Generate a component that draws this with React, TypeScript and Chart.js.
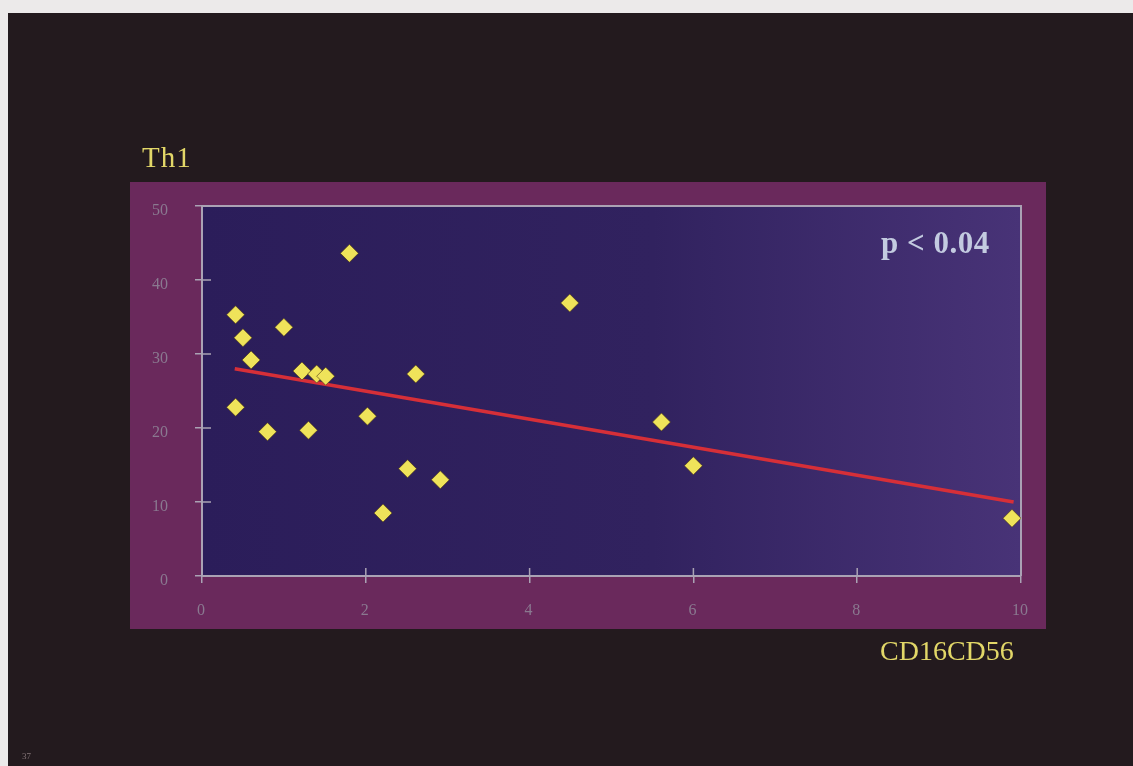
import React, { useEffect, useRef } from "react";
import { Chart, registerables } from "chart.js";

Chart.register(...registerables);

// Data
const xValues = [0.41, 0.5, 0.6, 0.41, 0.8, 1.0, 1.22, 1.4, 1.51, 1.3, 1.8, 2.02, 2.21, 2.51, 2.61, 2.91, 4.49, 5.61, 6.0, 9.89];
const yValues = [35.3, 32.2, 29.2, 22.8, 19.5, 33.6, 27.7, 27.3, 27.0, 19.7, 43.6, 21.6, 8.5, 14.5, 27.3, 13.0, 36.9, 20.8, 14.9, 7.8];
const trendX = [0.4, 9.91];
const trendY = [28.0, 10.0];
const xTicks = [0, 2, 4, 6, 8, 10];
const yTicks = [0, 10, 20, 30, 40, 50];

const AXIS_COLOR = "#aaa2b4";
const TICK_LABEL_COLOR = "#8a7990";

const decorPlugin = {
  id: "decor",
  beforeDraw(chart: any) {
    const { ctx, chartArea: a } = chart;
    ctx.save();
    // magenta panel
    ctx.fillStyle = "#6a295c";
    const l = a.left - 72;
    const t = a.top - 24;
    const r = a.right + 25;
    const b = a.bottom + 53;
    ctx.fillRect(l, t, r - l, b - t);
    // plot gradient
    const g = ctx.createLinearGradient(a.left, 0, a.right, 0);
    g.addColorStop(0, "#2b1d5a");
    g.addColorStop(0.55, "#31225f");
    g.addColorStop(1, "#483377");
    ctx.fillStyle = g;
    ctx.fillRect(a.left, a.top, a.right - a.left, a.bottom - a.top);
    ctx.restore();
  },
  beforeDatasetsDraw(chart: any) {
    const { ctx, chartArea: a, scales } = chart;
    ctx.save();
    ctx.strokeStyle = AXIS_COLOR;
    ctx.lineWidth = 2;
    // top and right frame lines
    ctx.beginPath();
    ctx.moveTo(a.left, a.top);
    ctx.lineTo(a.right, a.top);
    ctx.lineTo(a.right, a.bottom);
    ctx.stroke();
    // inner tick parts
    ctx.lineWidth = 1.5;
    ctx.beginPath();
    yTicks.forEach((v) => {
      const y = scales.y.getPixelForValue(v);
      ctx.moveTo(a.left, y);
      ctx.lineTo(a.left + 9, y);
    });
    xTicks.forEach((v) => {
      const x = scales.x.getPixelForValue(v);
      ctx.moveTo(x, a.bottom);
      ctx.lineTo(x, a.bottom - 8);
    });
    ctx.stroke();
    ctx.restore();
  },
};

export default function App() {
  const canvasRef = useRef<HTMLCanvasElement | null>(null);

  useEffect(() => {
    if (!canvasRef.current) return;
    const points = xValues.map((x, i) => ({ x, y: yValues[i] }));
    const trend = trendX.map((x, i) => ({ x, y: trendY[i] }));
    const chart = new Chart(canvasRef.current, {
      type: "scatter",
      data: {
        datasets: [
          {
            label: "Th1",
            data: points,
            pointStyle: "rectRot",
            pointRadius: 9,
            backgroundColor: "#efe35a",
            borderColor: "rgba(70,50,20,0.6)",
            borderWidth: 1,
            order: 0,
          },
          {
            label: "trend",
            data: trend,
            showLine: true,
            borderColor: "#d62f38",
            borderWidth: 3.5,
            pointRadius: 0,
            order: 1,
          } as any,
        ],
      },
      options: {
        responsive: false,
        animation: false,
        devicePixelRatio: 1,
        layout: { padding: { left: 142, right: 112, top: 206, bottom: 130 } },
        plugins: {
          legend: { display: false },
          tooltip: { enabled: false },
          title: { display: false },
        },
        scales: {
          x: {
            type: "linear",
            min: 0,
            max: 10,
            afterFit: (s: any) => {
              s.height = 60;
            },
            afterBuildTicks: (s: any) => {
              s.ticks = xTicks.map((v) => ({ value: v }));
            },
            ticks: {
              color: TICK_LABEL_COLOR,
              font: { family: "'Liberation Serif', serif", size: 16 },
              padding: 18,
              labelOffset: -1,
            },
            grid: {
              display: true,
              drawOnChartArea: false,
              drawTicks: true,
              tickLength: 7,
              color: AXIS_COLOR,
              lineWidth: 1.5,
            },
            border: { display: true, color: AXIS_COLOR, width: 2 },
          },
          y: {
            type: "linear",
            min: 0,
            max: 50,
            afterFit: (s: any) => {
              s.width = 60;
            },
            afterBuildTicks: (s: any) => {
              s.ticks = yTicks.map((v) => ({ value: v }));
            },
            ticks: {
              color: TICK_LABEL_COLOR,
              font: { family: "'Liberation Serif', serif", size: 16 },
              padding: 27,
              labelOffset: 5,
            },
            grid: {
              display: true,
              drawOnChartArea: false,
              drawTicks: true,
              tickLength: 7,
              color: AXIS_COLOR,
              lineWidth: 1.5,
            },
            border: { display: true, color: AXIS_COLOR, width: 2 },
          },
        },
      },
      plugins: [decorPlugin],
    });
    return () => chart.destroy();
  }, []);

  const serif = "'Liberation Serif', 'Times New Roman', serif";

  return (
    <div
      style={{
        position: "fixed",
        left: 0,
        top: 0,
        width: 1133,
        height: 766,
        background: "#eceaea",
        overflow: "hidden",
      }}
    >
      <div
        style={{
          position: "absolute",
          left: 8,
          top: 13,
          right: 0,
          bottom: 0,
          background: "#231a1e",
        }}
      />
      <canvas
        ref={canvasRef}
        width={1133}
        height={766}
        style={{ position: "absolute", left: 0, top: 0, width: 1133, height: 766 }}
      />
      <div
        style={{
          position: "absolute",
          left: 142,
          top: 143,
          fontFamily: serif,
          fontSize: 29,
          lineHeight: 1,
          color: "#e2d768",
          letterSpacing: 1,
          whiteSpace: "nowrap",
        }}
      >
        Th1
      </div>
      <div
        style={{
          position: "absolute",
          left: 880,
          top: 637,
          fontFamily: serif,
          fontSize: 28,
          lineHeight: 1,
          color: "#e2d768",
          whiteSpace: "nowrap",
        }}
      >
        CD16CD56
      </div>
      <div
        style={{
          position: "absolute",
          left: 881,
          top: 227,
          fontFamily: serif,
          fontSize: 31,
          fontWeight: "bold",
          lineHeight: 1,
          color: "#c3cbe0",
          letterSpacing: 0.5,
          whiteSpace: "nowrap",
        }}
      >
        p &lt; 0.04
      </div>
      <div
        style={{
          position: "absolute",
          left: 22,
          top: 752,
          fontFamily: serif,
          fontSize: 9,
          lineHeight: 1,
          color: "#857578",
          whiteSpace: "nowrap",
        }}
      >
        37
      </div>
    </div>
  );
}
